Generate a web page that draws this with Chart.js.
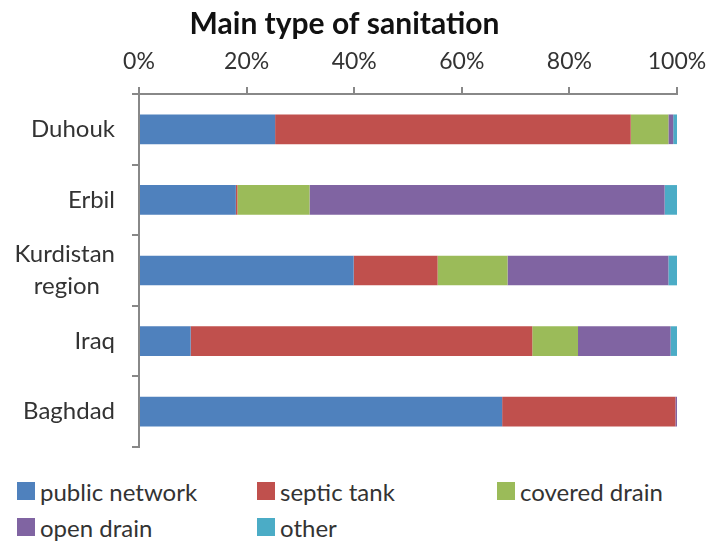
<!DOCTYPE html>
<html>
<head>
<meta charset="utf-8">
<script src="https://cdn.jsdelivr.net/npm/chart.js@4"></script>
<style>
  html, body { margin: 0; padding: 0; background: #fff; }
  #wrap { position: relative; width: 723px; height: 541px; font-family: Lato, sans-serif; }
  #box { position: absolute; left: 0; top: 0; width: 723px; height: 450px; }
  .item { position: absolute; display: flex; align-items: center; height: 30px; font-size: 24px; color: #333; white-space: nowrap; }
  .item i { display: inline-block; width: 18px; height: 18px; margin-right: 5px; }
</style>
</head>
<body>
<div id="wrap">
  <div id="box"><canvas id="chart"></canvas></div>
</div>
<script>
// === данные ===
const categories = ['Duhouk', 'Erbil', ['Kurdistan', 'region'], 'Iraq', 'Baghdad'];
const publicNetwork = [25.3, 18.0, 39.9, 9.6, 67.5];
const septicTank    = [66.1, 0.3, 15.6, 63.5, 32.2];
const coveredDrain  = [7.0, 13.4, 13.0, 8.5, 0];
const openDrain     = [0.9, 66.0, 29.9, 17.2, 0.3];
const other         = [0.7, 2.3, 1.6, 1.2, 0];
const xTicks = [0, 20, 40, 60, 80, 100];

const series = [
  { label: 'public network', data: publicNetwork, color: '#4F81BD' },
  { label: 'septic tank',    data: septicTank,    color: '#C0504D' },
  { label: 'covered drain',  data: coveredDrain,  color: '#9BBB59' },
  { label: 'open drain',     data: openDrain,     color: '#8064A2' },
  { label: 'other',          data: other,         color: '#4BACC6' }
];

const font = 'Lato, sans-serif';

new Chart(document.getElementById('chart'), {
  type: 'bar',
  data: {
    labels: categories,
    datasets: series.map(s => ({
      label: s.label, data: s.data, backgroundColor: s.color,
      borderWidth: 0, barPercentage: 0.42, categoryPercentage: 1
    }))
  },
  options: {
    indexAxis: 'y',
    responsive: true,
    maintainAspectRatio: false,
    animation: false,
    layout: { padding: { left: 12, right: 46, top: 0, bottom: 3 } },
    plugins: {
      legend: { display: false },
      tooltip: { enabled: false },
      title: {
        display: true, text: 'Main type of sanitation', color: '#111',
        font: { family: font, size: 30, weight: 'bold' },
        padding: { top: 6, bottom: 4 }
      }
    },
    scales: {
      x: {
        position: 'top', stacked: true, min: 0, max: 100,
        afterBuildTicks: sc => { sc.ticks = xTicks.map(v => ({ value: v })); },
        afterFit: sc => { sc.height = 48; sc.paddingLeft = 0; sc.paddingRight = 0; },
        ticks: {
          color: '#333', padding: 12,
          font: { family: font, size: 23 },
          callback: v => v + '%'
        },
        grid: { drawOnChartArea: false, tickLength: 7, color: '#888', lineWidth: 2 },
        border: { color: '#888', width: 2 }
      },
      y: {
        stacked: true,
        afterFit: sc => { sc.width = 127; sc.paddingTop = 0; sc.paddingBottom = 0; },
        ticks: {
          color: '#333', padding: 17, autoSkip: false,
          font: { family: font, size: 24, lineHeight: 1.33 },
          // "region" стоит по центру под "Kurdistan", как в Excel
          callback: function (v) {
            const l = this.getLabelForValue(v);
            return Array.isArray(l) ? [l[0], l[1] + '\u2002\u2009'] : l;
          }
        },
        grid: { drawOnChartArea: false, offset: true, tickLength: 7, color: '#888', lineWidth: 2 },
        border: { color: '#888', width: 2 }
      }
    }
  }
});

// === легенда ===
const legendPos = [[17, 476], [257, 476], [497, 476], [17, 512], [257, 512]];
const wrap = document.getElementById('wrap');
series.forEach((s, i) => {
  const el = document.createElement('div');
  el.className = 'item';
  el.style.left = legendPos[i][0] + 'px';
  el.style.top = legendPos[i][1] + 'px';
  el.innerHTML = '<i style="background:' + s.color + '"></i>' + s.label;
  wrap.appendChild(el);
});
</script>
</body>
</html>
